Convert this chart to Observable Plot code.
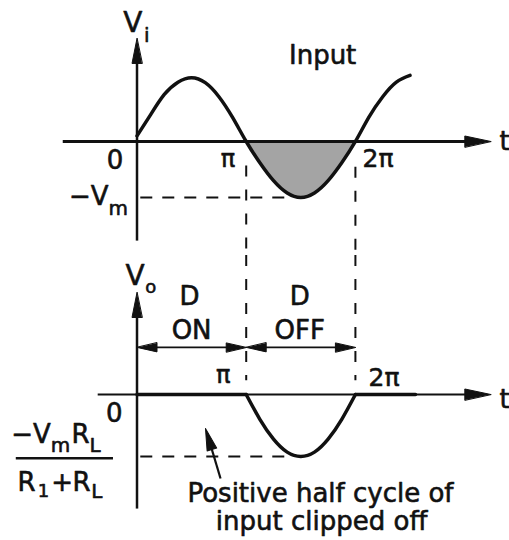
<!DOCTYPE html>
<html>
<head>
<meta charset="utf-8">
<script src="https://cdn.jsdelivr.net/npm/d3@7"></script>
<script src="https://cdn.jsdelivr.net/npm/@observablehq/plot@0.6"></script>
<style>
  html, body { margin: 0; padding: 0; background: #fff; }
  svg { display: block; }
</style>
</head>
<body>
<script>
// Phase (in units of π) and input voltage (in units of Vm)
const phase = [0, 0.125, 0.25, 0.375, 0.5, 0.625, 0.75, 0.875, 1, 1.125, 1.25, 1.375, 1.5,
               1.625, 1.75, 1.875, 2, 2.125, 2.25, 2.375, 2.5];
const vIn   = [0.1, 0.48, 0.84, 1.06, 1.14, 1.05, 0.80, 0.43, 0, -0.38, -0.70, -0.92, -1.0,
               -0.92, -0.70, -0.38, 0, 0.44, 0.80, 1.06, 1.18];

// Output: clipped to zero while the diode conducts, negative lobe otherwise
const phaseOut = [0, 1, 1.125, 1.25, 1.375, 1.5, 1.625, 1.75, 1.875, 2, 2.55];
const vOut     = [0, 0, -0.40, -0.72, -0.93, -1.0, -0.93, -0.72, -0.40, 0, 0];

// Labels for the phase axis
const phaseTicks = ["0", "π", "2π"];
const diodeState = [["D", "ON"], ["D", "OFF"]];

const FONT = "DejaVu Sans";
const INK = "#111";

const inputPts = phase.map((t, i) => ({t, v: vIn[i]}));
const outputPts = phaseOut.map((t, i) => ({t, v: vOut[i]}));
const lobe = outputPts.filter(d => d.t >= 1 && d.t <= 2);
const shaded = inputPts.filter(d => d.t >= 1 && d.t <= 2);

// Filled triangular arrowhead for Plot.vector
const head = {
  draw(ctx, l, r) {
    ctx.moveTo(0, -l);
    ctx.lineTo(-r, 0);
    ctx.lineTo(r, 0);
    ctx.closePath();
  }
};
const arrowHead = (x, y, rotate, length = 24, r = 5) =>
  Plot.vector([{x, y, rotate}], {
    x: "x", y: "y", rotate: "rotate", length, r, anchor: "end",
    shape: head, fill: INK, stroke: INK, strokeWidth: 1
  });

const seg = (x1, y1, x2, y2, opts = {}) =>
  Plot.link([{x1, y1, x2, y2}], {x1: "x1", y1: "y1", x2: "x2", y2: "y2", stroke: INK, ...opts});

const note = (text, x, y, size, anchor = "start") =>
  Plot.text([{x, y, text}], {
    x: "x", y: "y", text: "text", fontSize: size, textAnchor: anchor,
    lineAnchor: "bottom", fontFamily: FONT, fill: INK,
    stroke: INK, strokeWidth: 0.6
  });

const xScale = {domain: [-1.25, 3.411], range: [0, 509], axis: null};
const frame = {width: 509, marginTop: 0, marginRight: 0, marginBottom: 0, marginLeft: 0};

// Input waveform
const inputChart = Plot.plot({
  ...frame,
  height: 255,
  x: xScale,
  y: {domain: [-2.036, 2.518], range: [255, 0], axis: null},
  marks: [
    Plot.areaY(shaded, {x: "t", y: "v", curve: "natural", fill: "#a4a4a4"}),
    // guide lines at -Vm, π and 2π
    seg(0.03, -1, 1.38, -1, {strokeWidth: 2, strokeDasharray: "12,10"}),
    seg(1, -0.43, 1, -2.04, {strokeWidth: 2, strokeDasharray: "11,13"}),
    seg(2, -0.45, 2, -2.04, {strokeWidth: 2, strokeDasharray: "11,13"}),
    // axes
    seg(-0.68, 0, 3.05, 0, {strokeWidth: 3}),
    arrowHead(3.24, 0, 90, 26, 5.5),
    seg(0, -1.77, 0, 1.5, {strokeWidth: 2.5}),
    arrowHead(0, 1.84, 0, 25, 5),
    Plot.line(inputPts, {x: "t", y: "v", curve: "natural", stroke: INK, strokeWidth: 3.5}),
    note("V", -0.125, 1.95, 28),
    note("i", 0.065, 1.77, 20),
    note("Input", 1.70, 1.39, 26, "middle"),
    note(phaseTicks[0], -0.125, -0.50, 26, "end"),
    note(phaseTicks[1], 0.90, -0.46, 24, "end"),
    note(phaseTicks[2], 2.065, -0.46, 25),
    note("−V", -0.26, -1.14, 26, "end"),
    note("m", -0.26, -1.32, 20),
    note("t", 3.32, -0.16, 26)
  ]
});

// Output waveform
const outputChart = Plot.plot({
  ...frame,
  height: 285,
  x: xScale,
  y: {domain: [-2.355, 2.242], range: [285, 0], axis: null},
  marks: [
    // guide lines at π, 2π and the output peak
    seg(1, 2.25, 1, 0.23, {strokeWidth: 2, strokeDasharray: "11,13"}),
    seg(2, 2.25, 2, 0.23, {strokeWidth: 2, strokeDasharray: "11,13"}),
    seg(0.03, -1, 1.35, -1, {strokeWidth: 2, strokeDasharray: "12,10"}),
    // conduction intervals
    seg(0.1, 0.76, 0.9, 0.76, {strokeWidth: 1.8}),
    arrowHead(0.0, 0.76, 270, 20, 4.5),
    arrowHead(1.0, 0.76, 90, 20, 4.5),
    seg(1.1, 0.76, 1.9, 0.76, {strokeWidth: 1.8}),
    arrowHead(1.0, 0.76, 270, 20, 4.5),
    arrowHead(2.0, 0.76, 90, 20, 4.5),
    // axes
    seg(-0.36, 0, 3.05, 0, {strokeWidth: 2}),
    arrowHead(3.24, 0, 90, 26, 5.5),
    seg(0, -1.84, 0, 1.35, {strokeWidth: 2.5}),
    arrowHead(0, 1.645, 0, 25, 5),
    Plot.line(outputPts.filter(d => d.t <= 1), {x: "t", y: "v", stroke: INK, strokeWidth: 3.5}),
    Plot.line(outputPts.filter(d => d.t >= 2), {x: "t", y: "v", stroke: INK, strokeWidth: 3.5}),
    Plot.line(lobe, {x: "t", y: "v", curve: "natural", stroke: INK, strokeWidth: 3.5}),
    note("V", -0.105, 1.76, 28),
    note("o", 0.075, 1.63, 18),
    note(diodeState[0][0], 0.48, 1.44, 26, "middle"),
    note(diodeState[0][1], 0.50, 0.90, 26, "middle"),
    note(diodeState[1][0], 1.49, 1.44, 26, "middle"),
    note(diodeState[1][1], 1.49, 0.90, 26, "middle"),
    note(phaseTicks[1], 0.856, 0.18, 24, "end"),
    note(phaseTicks[2], 2.12, 0.13, 25),
    note(phaseTicks[0], -0.133, -0.45, 26, "end"),
    // −Vm·RL / (R1+RL)
    note("−V", -0.79, -0.79, 26, "end"),
    note("m", -0.79, -0.92, 20),
    note("R", -0.60, -0.79, 26),
    note("L", -0.435, -0.935, 20),
    seg(-1.11, -1.03, -0.22, -1.03, {strokeWidth: 2.5}),
    note("R", -1.094, -1.55, 26),
    note("1", -0.91, -1.66, 18),
    note("+", -0.785, -1.55, 26),
    note("R", -0.59, -1.55, 26),
    note("L", -0.42, -1.67, 20),
    note("t", 3.32, -0.21, 26),
    // annotation
    seg(0.765, -1.355, 0.64, -0.62, {strokeWidth: 2.2}),
    arrowHead(0.627, -0.548, 343, 22, 5),
    note("Positive half cycle of", 1.68, -1.74, 26, "middle"),
    note("input clipped off", 1.69, -2.19, 26, "middle")
  ]
});

document.body.append(inputChart, outputChart);
</script>
</body>
</html>
